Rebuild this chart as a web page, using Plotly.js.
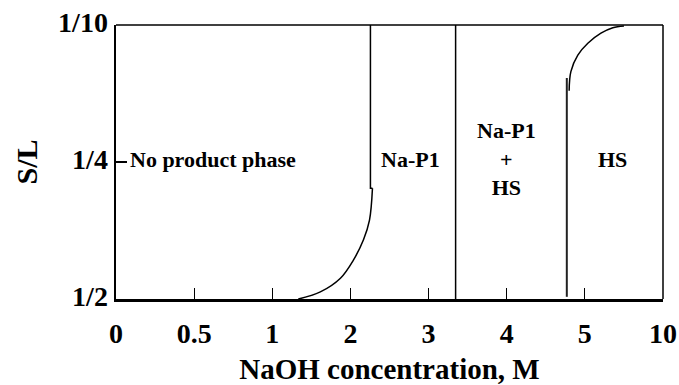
<!DOCTYPE html>
<html>
<head>
<meta charset="utf-8">
<script src="https://cdn.plot.ly/plotly-3.0.1.min.js"></script>
<style>html,body{margin:0;padding:0;background:#fff;}#chart{width:679px;height:385px;}</style>
</head>
<body>
<div id="chart"></div>
<script>
// Axis tick values (NaOH concentration, M) and S/L ratios, drawn evenly spaced
var xTickValues = [0, 0.5, 1, 2, 3, 4, 5, 10];
var xTickLabels = ["0", "0.5", "1", "2", "3", "4", "5", "10"];
var slTickValues = [1/2, 1/4, 1/10];
var slTickLabels = ["1/2", "1/4", "1/10"];

// Boundary: no product phase -> Na-P1 (curved part)
var napCurveM  = [1.333, 1.615, 1.872, 2.038, 2.167, 2.244, 2.282];
var napCurveSL = [0.500, 0.487, 0.462, 0.429, 0.392, 0.356, 0.298];
// Boundary: vertical part
var napStepM  = [2.282, 2.256, 2.256];
var napStepSL = [0.298, 0.298, 0.100];
// Boundary: Na-P1 -> Na-P1 + HS
var mixLineM  = [3.346, 3.346];
var mixLineSL = [0.500, 0.100];
// Boundary: Na-P1 + HS -> HS (vertical)
var hsLineM  = [4.769, 4.769];
var hsLineSL = [0.496, 0.158];
// Boundary: HS curve
var hsCurveM  = [4.799, 4.821, 4.910, 5.19, 6.03, 6.79, 7.5];
var hsCurveSL = [0.172, 0.151, 0.133, 0.120, 0.109, 0.103, 0.101];

// Region labels
var regionLabels = ["No product phase", "Na-P1", "Na-P1<br>+<br>HS", "HS"];
var regionM  = [0.077, 2.77, 4.0, 6.8];
var regionSL = [0.25, 0.25, 0.25, 0.25];

function interp(v, ticks) {
  for (var i = 0; i < ticks.length - 1; i++) {
    var a = ticks[i], b = ticks[i + 1];
    var lo = Math.min(a, b), hi = Math.max(a, b);
    if (v >= lo && v <= hi) return i + (v - a) / (b - a);
  }
  return v < ticks[0] ? 0 : ticks.length - 1;
}
function px(arr) { return arr.map(function (v) { return interp(v, xTickValues); }); }
function py(arr) { return arr.map(function (v) { return interp(v, slTickValues); }); }

var font = {family: "Liberation Serif", color: "#000", weight: "bold"};
function f(size) { return Object.assign({}, font, {size: size}); }

var traces = [
  {x: px(napCurveM), y: py(napCurveSL), mode: "lines", line: {color: "#000", width: 1.5, shape: "spline"}},
  {x: px(napStepM), y: py(napStepSL), mode: "lines", line: {color: "#000", width: 1.5}},
  {x: px(mixLineM), y: py(mixLineSL), mode: "lines", line: {color: "#000", width: 1.5}},
  {x: px(hsLineM), y: py(hsLineSL), mode: "lines", line: {color: "#222", width: 2}},
  {x: px(hsCurveM), y: py(hsCurveSL), mode: "lines", line: {color: "#000", width: 1.5, shape: "spline"}}
];

var annotations = regionLabels.map(function (t, i) {
  return {
    x: interp(regionM[i], xTickValues), y: interp(regionSL[i], slTickValues),
    xref: "x", yref: "y", text: t, showarrow: false,
    xanchor: i === 0 ? "left" : "center", yanchor: "middle", yshift: 3,
    font: f(22), align: "center"
  };
});

var layout = {
  width: 679, height: 385,
  margin: {l: 116, r: 16, t: 25, b: 86},
  paper_bgcolor: "#fff", plot_bgcolor: "#fff",
  showlegend: false,
  xaxis: {
    range: [0, 7], tickmode: "array",
    tickvals: xTickValues.map(function (v, i) { return i; }), ticktext: xTickLabels,
    ticks: "inside", ticklen: 11, tickwidth: 1.2, tickcolor: "#000",
    showline: true, linecolor: "#000", linewidth: 2.5, mirror: false,
    showgrid: false, zeroline: false, ticklabelstandoff: 8,
    tickfont: f(28),
    title: {text: "NaOH concentration, M", font: f(29), standoff: 12}
  },
  yaxis: {
    range: [0, 2], tickmode: "array",
    tickvals: slTickValues.map(function (v, i) { return i; }), ticktext: slTickLabels,
    ticks: "inside", ticklen: 11, tickwidth: 1.2, tickcolor: "#000",
    showline: true, linecolor: "#000", linewidth: 2.5, mirror: false,
    showgrid: false, zeroline: false, ticklabelshift: -3,
    tickfont: f(28),
    title: {text: "S/L", font: f(30), standoff: 12}
  },
  shapes: [
    {type: "line", xref: "paper", yref: "paper", x0: 0, x1: 1, y0: 1, y1: 1, line: {color: "#000", width: 1.5}},
    {type: "line", xref: "paper", yref: "paper", x0: 1, x1: 1, y0: 0, y1: 1, line: {color: "#000", width: 1.5}}
  ],
  annotations: annotations
};

Plotly.newPlot("chart", traces, layout, {staticPlot: true, displayModeBar: false});
</script>
</body>
</html>
